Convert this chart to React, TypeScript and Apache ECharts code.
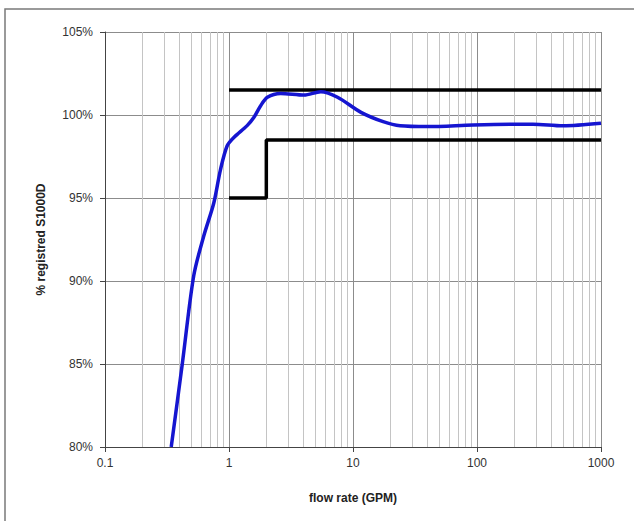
import React, { useEffect, useRef } from "react";
import * as echarts from "echarts";

const curveX = [0.342, 0.42, 0.519, 0.625, 0.754, 0.853, 0.967, 1.1, 1.4, 1.59, 1.8, 2.04, 2.61, 4.03, 5.5, 7.5, 11.6, 17.5, 24, 40, 93, 209, 283, 493, 1000];
const curveY = [80, 85, 90.3, 92.7, 94.7, 96.7, 98.15, 98.66, 99.36, 99.86, 100.56, 101.07, 101.3, 101.2, 101.4, 101.07, 100.16, 99.6, 99.35, 99.3, 99.4, 99.45, 99.45, 99.35, 99.5];

const upperX = [1, 1000];
const upperY = [101.5, 101.5];
const lowerX = [1, 2, 2, 1000];
const lowerY = [95, 95, 98.5, 98.5];

const decades = [0.1, 1, 10, 100];
const minorMultipliers = [2, 3, 4, 5, 6, 7, 8, 9];

const yTitle = "% registred S1000D";
const xTitle = "flow rate (GPM)";

export default function App() {
  const ref = useRef<HTMLDivElement>(null);
  useEffect(() => {
    if (!ref.current) return;
    const chart = echarts.init(ref.current, undefined, { renderer: "svg" });
    const minorLines: any[] = [];
    decades.forEach((d) => minorMultipliers.forEach((m) => minorLines.push({ xAxis: +(d * m).toPrecision(3) })));
    const zip = (xs: number[], ys: number[]) => xs.map((x, i) => [x, ys[i]]);
    chart.setOption({
      animation: false,
      backgroundColor: "#ffffff",
      textStyle: { fontFamily: "Liberation Sans, Arial, sans-serif" },
      graphic: [
        {
          type: "rect",
          shape: { x: 5, y: 9, width: 700, height: 600 },
          style: { fill: "none", stroke: "#7a7a7a", lineWidth: 1.5 },
          silent: true,
        },
      ],
      grid: { left: 105, right: 33, top: 32, bottom: 74, containLabel: false },
      xAxis: {
        type: "log",
        logBase: 10,
        min: 0.1,
        max: 1000,
        name: xTitle,
        nameLocation: "middle",
        nameGap: 45,
        nameTextStyle: { fontSize: 12, fontWeight: "bold", color: "#222" },
        axisLine: { show: true, lineStyle: { color: "#444", width: 1 } },
        axisTick: { show: true, inside: false, length: 5, lineStyle: { color: "#444" } },
        axisLabel: {
          fontSize: 12,
          color: "#333",
          margin: 10,
          formatter: (v: number) => (v < 1 ? String(+v.toFixed(1)) : String(Math.round(v))),
        },
        splitLine: { show: true, lineStyle: { color: "#8c8c8c", width: 1 } },
        minorTick: { show: false },
        minorSplitLine: { show: false },
      },
      yAxis: {
        type: "value",
        min: 80,
        max: 105,
        interval: 5,
        name: yTitle,
        nameLocation: "middle",
        nameRotate: 90,
        nameGap: 58,
        nameTextStyle: { fontSize: 12, fontWeight: "bold", color: "#222" },
        axisLine: { show: true, lineStyle: { color: "#444", width: 1 } },
        axisTick: { show: true, inside: false, length: 5, lineStyle: { color: "#444" } },
        axisLabel: { fontSize: 12, color: "#333", margin: 12, formatter: "{value}%" },
        splitLine: { show: true, lineStyle: { color: "#8c8c8c", width: 1 } },
      },
      series: [
        {
          type: "line",
          data: [],
          silent: true,
          z: 1,
          markLine: {
            silent: true,
            z: 1,
            symbol: ["none", "none"],
            label: { show: false },
            lineStyle: { color: "#c4c4c4", width: 1, type: "solid" },
            data: minorLines,
            animation: false,
          },
        },
        {
          type: "line",
          data: zip(upperX, upperY),
          showSymbol: false,
          lineStyle: { color: "#000000", width: 3.5 },
          z: 6,
        },
        {
          type: "line",
          data: zip(lowerX, lowerY),
          showSymbol: false,
          lineStyle: { color: "#000000", width: 3.5 },
          z: 6,
        },
        {
          type: "line",
          data: zip(curveX, curveY),
          showSymbol: false,
          smooth: 0.3,
          lineStyle: { color: "#1515d0", width: 3.5 },
          z: 7,
        },
      ],
    });
    return () => chart.dispose();
  }, []);
  return <div ref={ref} style={{ position: "fixed", left: 0, top: 0, width: 634, height: 521 }} />;
}
